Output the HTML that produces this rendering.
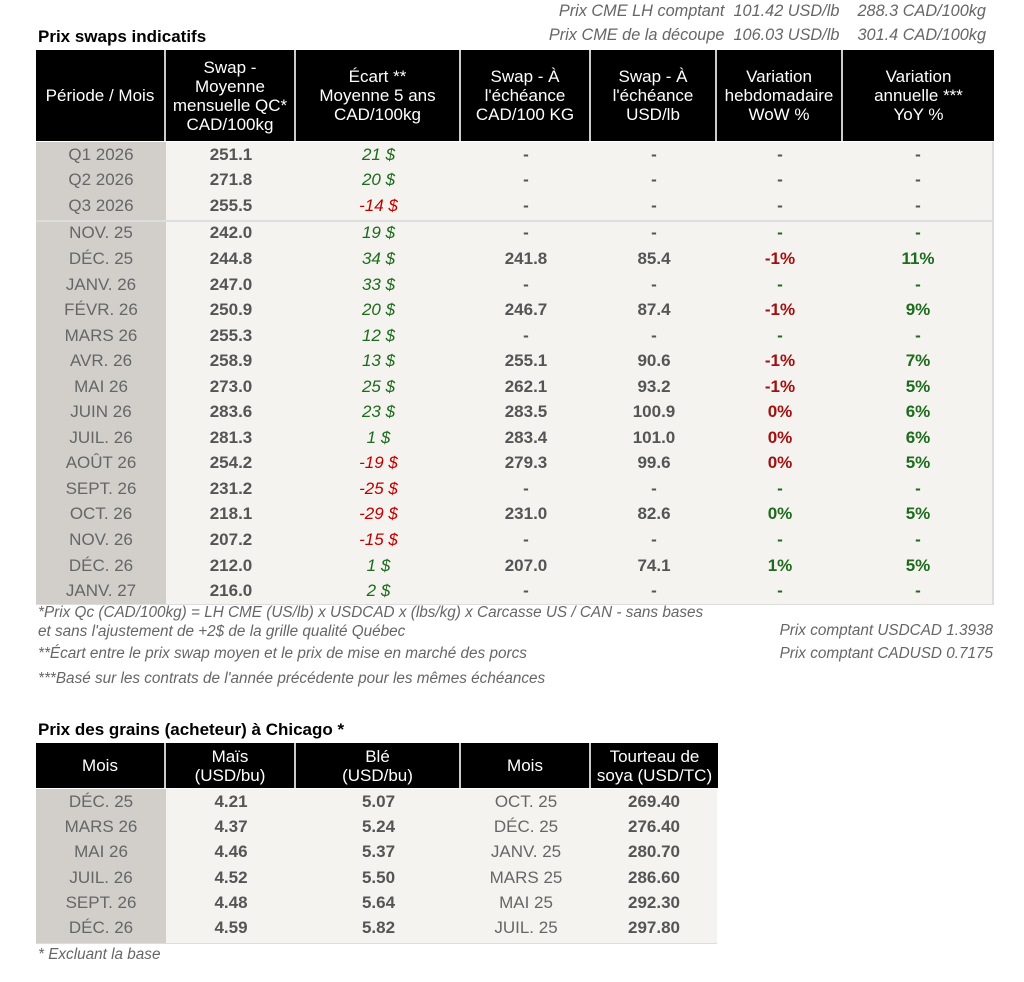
<!DOCTYPE html>
<html><head><meta charset="utf-8">
<style>
body{margin:0;width:1024px;height:982px;background:#fff;font-family:"Liberation Sans",Arial,sans-serif;position:relative;overflow:hidden}
.abs{position:absolute}
.title{font-weight:bold;font-size:17px;color:#000}
.note{font-style:italic;color:#666;font-size:15.3px;white-space:nowrap}
.hdr{position:absolute;background:#000;color:#fff;font-size:17px;text-align:center;display:flex;align-items:center;justify-content:center;line-height:19px;border-right:2px solid #ccc;box-sizing:border-box}
.cell{position:absolute;font-size:17px;text-align:center;box-sizing:border-box;display:flex;align-items:center;justify-content:center}
.b{font-weight:bold}
.i{font-style:italic}
</style></head><body>
<div class="abs note" style="right:38px;top:2px;font-size:16.3px">Prix CME LH comptant&nbsp; 101.42 USD/lb&nbsp;&nbsp;&nbsp; 288.3 CAD/100kg</div>
<div class="abs note" style="right:38px;top:26px;font-size:16.3px">Prix CME de la découpe&nbsp; 106.03 USD/lb&nbsp;&nbsp;&nbsp; 301.4 CAD/100kg</div>
<div class="abs title" style="left:38px;top:27px">Prix swaps indicatifs</div>
<div id="t1"></div>
<div class="abs note" style="left:38px;top:603px;line-height:19px">*Prix Qc (CAD/100kg) = LH CME (US/lb) x USDCAD x (lbs/kg) x Carcasse US / CAN - sans bases<br>et sans l'ajustement de +2$ de la grille qualité Québec</div>
<div class="abs note" style="left:38px;top:645px">**Écart entre le prix swap moyen et le prix de mise en marché des porcs</div>
<div class="abs note" style="left:38px;top:670px">***Basé sur les contrats de l'année précédente pour les mêmes échéances</div>
<div class="abs note" style="right:31px;top:622px">Prix comptant USDCAD 1.3938</div>
<div class="abs note" style="right:31px;top:645px">Prix comptant CADUSD 0.7175</div>
<div class="abs title" style="left:38px;top:720px">Prix des grains (acheteur) à Chicago *</div>
<div id="t2"></div>
<div class="abs note" style="left:38px;top:946px">* Excluant la base</div>
<script>
const G='#1e6b1e',R='#c00000',RD='#a01010',K='#555';
const periods=['Q1 2026','Q2 2026','Q3 2026','NOV. 25','DÉC. 25','JANV. 26','FÉVR. 26','MARS 26','AVR. 26','MAI 26','JUIN 26','JUIL. 26','AOÛT 26','SEPT. 26','OCT. 26','NOV. 26','DÉC. 26','JANV. 27'];
const swapQC=['251.1','271.8','255.5','242.0','244.8','247.0','250.9','255.3','258.9','273.0','283.6','281.3','254.2','231.2','218.1','207.2','212.0','216.0'];
const ecart=[21,20,-14,19,34,33,20,12,13,25,23,1,-19,-25,-29,-15,1,2];
const swapCAD=['-','-','-','-','241.8','-','246.7','-','255.1','262.1','283.5','283.4','279.3','-','231.0','-','207.0','-'];
const swapUSD=['-','-','-','-','85.4','-','87.4','-','90.6','93.2','100.9','101.0','99.6','-','82.6','-','74.1','-'];
const wow=['-','-','-','-','-1%','-','-1%','-','-1%','-1%','0%','0%','0%','-','0%','-','1%','-'];
const wowColor=[K,K,K,G,RD,G,RD,G,RD,RD,RD,RD,RD,G,G,G,G,G];
const yoy=['-','-','-','-','11%','-','9%','-','7%','5%','6%','6%','5%','-','5%','-','5%','-'];
const yoyColor=[K,K,K,G,G,G,G,G,G,G,G,G,G,G,G,G,G,G];
const cols1=[36,166,296,461,591,717,843,993];
const heads1=['Période / Mois','Swap -<br>Moyenne<br>mensuelle QC*<br>CAD/100kg','Écart **<br>Moyenne 5 ans<br>CAD/100kg','Swap - À<br>l\'échéance<br>CAD/100 KG','Swap - À<br>l\'échéance<br>USD/lb','Variation<br>hebdomadaire<br>WoW %','Variation<br>annuelle ***<br>YoY %'];
function mk(parent,cls,x,y,w,h,html,name){
  const d=document.createElement('div');d.className=cls;
  d.style.left=x+'px';d.style.top=y+'px';d.style.width=w+'px';d.style.height=h+'px';
  d.innerHTML=html;
  
  
  parent.appendChild(d);return d;
}
function bg(parent,x,y,w,h,c,name){
  const d=document.createElement('div');d.className='abs';
  d.style.cssText+=`left:${x}px;top:${y}px;width:${w}px;height:${h}px;background:${c}`;
  
  
  parent.appendChild(d);
}
const t1=document.getElementById('t1');
const top1=50,hh1=91,rh=25.55,r0=142;
bg(t1,36,r0,130,periods.length*rh+2,'#d2cfcb','period-column-bg');
bg(t1,166,r0,827,periods.length*rh+2,'#f5f3ef','body-bg');
bg(t1,992,r0,2,periods.length*rh+2,'#ddd','right-border');
bg(t1,36,r0+3*rh+1,957,2,'#ddd','quarter-divider');
bg(t1,36,r0+periods.length*rh+2,958,1,'#ddd','bottom-border');
for(let c=0;c<7;c++){const h=mk(t1,'hdr',cols1[c],top1,cols1[c+1]-cols1[c]+(c==6?1:0),hh1,heads1[c],'header-'+c);if(c==6)h.style.borderRight='none';}
periods.forEach((p,i)=>{
  const y=r0+i*rh+(i>=3?2:0);
  const vals=[[p,'#666',''],[swapQC[i],K,'b'],[Math.round(ecart[i])+' $',ecart[i]<0?R:G,'i'],[swapCAD[i],K,'b'],[swapUSD[i],K,'b'],[wow[i],wowColor[i],'b'],[yoy[i],yoyColor[i],'b']];
  vals.forEach((v,c)=>{
    const e=mk(t1,'cell '+v[2],cols1[c],y,cols1[c+1]-cols1[c],rh,v[0],'row-'+i+'-col-'+c);
    e.style.color=v[1];
  });
});
const gMonths=['DÉC. 25','MARS 26','MAI 26','JUIL. 26','SEPT. 26','DÉC. 26'];
const mais=['4.21','4.37','4.46','4.52','4.48','4.59'];
const ble=['5.07','5.24','5.37','5.50','5.64','5.82'];
const sMonths=['OCT. 25','DÉC. 25','JANV. 25','MARS 25','MAI 25','JUIL. 25'];
const soya=['269.40','276.40','280.70','286.60','292.30','297.80'];
const cols2=[36,166,296,461,591,717];
const heads2=['Mois','Maïs<br>(USD/bu)','Blé<br>(USD/bu)','Mois','Tourteau de<br>soya (USD/TC)'];
const t2=document.getElementById('t2');
const top2=743,hh2=45,r2=789,rh2=25.3;
bg(t2,36,r2,130,6*rh2+2,'#d2cfcb','grain-month-bg');
bg(t2,166,r2,551,6*rh2+2,'#f5f3ef','grain-body-bg');
bg(t2,36,r2+6*rh2+2,681,1,'#ddd','grain-bottom-border');
for(let c=0;c<5;c++){const h=mk(t2,'hdr',cols2[c],top2,cols2[c+1]-cols2[c]+(c==4?1:0),hh2,heads2[c],'grain-header-'+c);if(c==4)h.style.borderRight='none';}
gMonths.forEach((m,i)=>{
  const y=r2+i*rh2;
  const vals=[[m,'#666',''],[mais[i],K,'b'],[ble[i],K,'b'],[sMonths[i],'#666',''],[soya[i],K,'b']];
  vals.forEach((v,c)=>{
    const e=mk(t2,'cell '+v[2],cols2[c],y,cols2[c+1]-cols2[c],rh2,v[0],'grain-row-'+i+'-col-'+c);
    e.style.color=v[1];
  });
});
</script>
</body></html>
